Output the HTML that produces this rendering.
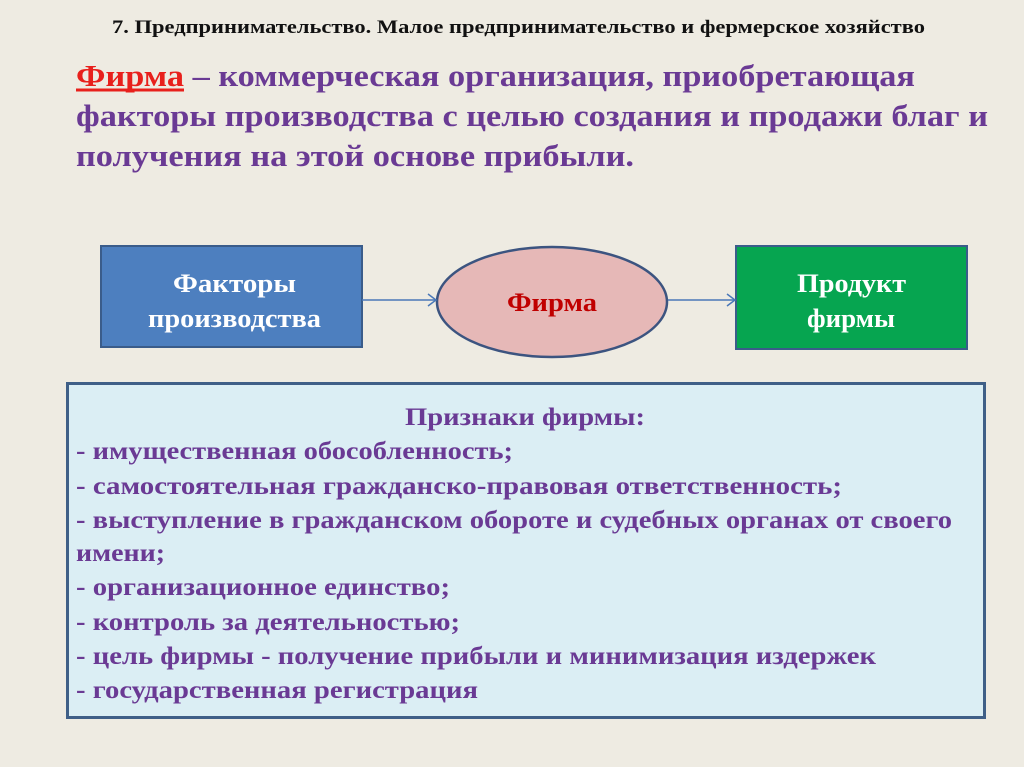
<!DOCTYPE html>
<html><head><meta charset="utf-8"><style>
body{margin:0;width:1024px;height:767px;background:#eeebe2;overflow:hidden;}
svg{position:absolute;left:0;top:0;font-family:"Liberation Serif",serif;font-weight:bold;}
</style></head><body>
<svg width="1024" height="767">
<text x="112" y="33" font-size="19" fill="#111" textLength="813" lengthAdjust="spacingAndGlyphs">7. Предпринимательство. Малое предпринимательство и фермерское хозяйство</text>
<g font-size="31" fill="#6a3a94">
<text x="76" y="86" textLength="839" lengthAdjust="spacingAndGlyphs"><tspan fill="#e8201c">Фирма</tspan> – коммерческая организация, приобретающая</text>
<line x1="76" y1="90" x2="184" y2="90" stroke="#e8201c" stroke-width="3"/>
<text x="76" y="126" textLength="912" lengthAdjust="spacingAndGlyphs">факторы производства с целью создания и продажи благ и</text>
<text x="76" y="166" textLength="558" lengthAdjust="spacingAndGlyphs">получения на этой основе прибыли.</text>
</g>
<rect x="101" y="246" width="261" height="101" fill="#4d7fbf" stroke="#3a5c8a" stroke-width="2"/>
<rect x="736" y="246" width="231" height="103" fill="#06a550" stroke="#3a5c8a" stroke-width="2"/>
<ellipse cx="552" cy="302" rx="115" ry="55" fill="#e6b8b7" stroke="#3c5480" stroke-width="2.5"/>
<line x1="362" y1="300" x2="436" y2="300" stroke="#4a78b8" stroke-width="1.5"/>
<polyline points="428,294 436,300 428,306" fill="none" stroke="#4a78b8" stroke-width="1.5"/>
<line x1="668" y1="300" x2="735" y2="300" stroke="#4a78b8" stroke-width="1.5"/>
<polyline points="727,294 735,300 727,306" fill="none" stroke="#4a78b8" stroke-width="1.5"/>
<g font-size="26" fill="#fff">
<text x="173" y="292" textLength="123" lengthAdjust="spacingAndGlyphs">Факторы</text>
<text x="148" y="327" textLength="173" lengthAdjust="spacingAndGlyphs">производства</text>
<text x="797" y="292" textLength="109" lengthAdjust="spacingAndGlyphs">Продукт</text>
<text x="807" y="327" textLength="88" lengthAdjust="spacingAndGlyphs">фирмы</text>
<text x="507" y="311" fill="#c00000" textLength="90" lengthAdjust="spacingAndGlyphs">Фирма</text>
</g>
<rect x="67.5" y="383.5" width="917" height="334" fill="#dbeef4" stroke="#3f5f87" stroke-width="3"/>
<g font-size="25" fill="#6a3a94">
<text x="405" y="425" textLength="240" lengthAdjust="spacingAndGlyphs">Признаки фирмы:</text>
<text x="76" y="459" textLength="437" lengthAdjust="spacingAndGlyphs">- имущественная обособленность;</text>
<text x="76" y="494" textLength="766" lengthAdjust="spacingAndGlyphs">- самостоятельная гражданско-правовая  ответственность;</text>
<text x="76" y="528" textLength="876" lengthAdjust="spacingAndGlyphs">- выступление в гражданском обороте и судебных органах от своего</text>
<text x="76" y="561" textLength="89" lengthAdjust="spacingAndGlyphs">имени;</text>
<text x="76" y="595" textLength="374" lengthAdjust="spacingAndGlyphs">- организационное единство;</text>
<text x="76" y="630" textLength="384" lengthAdjust="spacingAndGlyphs">- контроль за деятельностью;</text>
<text x="76" y="664" textLength="800" lengthAdjust="spacingAndGlyphs">- цель фирмы - получение прибыли и минимизация издержек</text>
<text x="76" y="698" textLength="402" lengthAdjust="spacingAndGlyphs">- государственная регистрация</text>
</g>
</svg>
</body></html>
